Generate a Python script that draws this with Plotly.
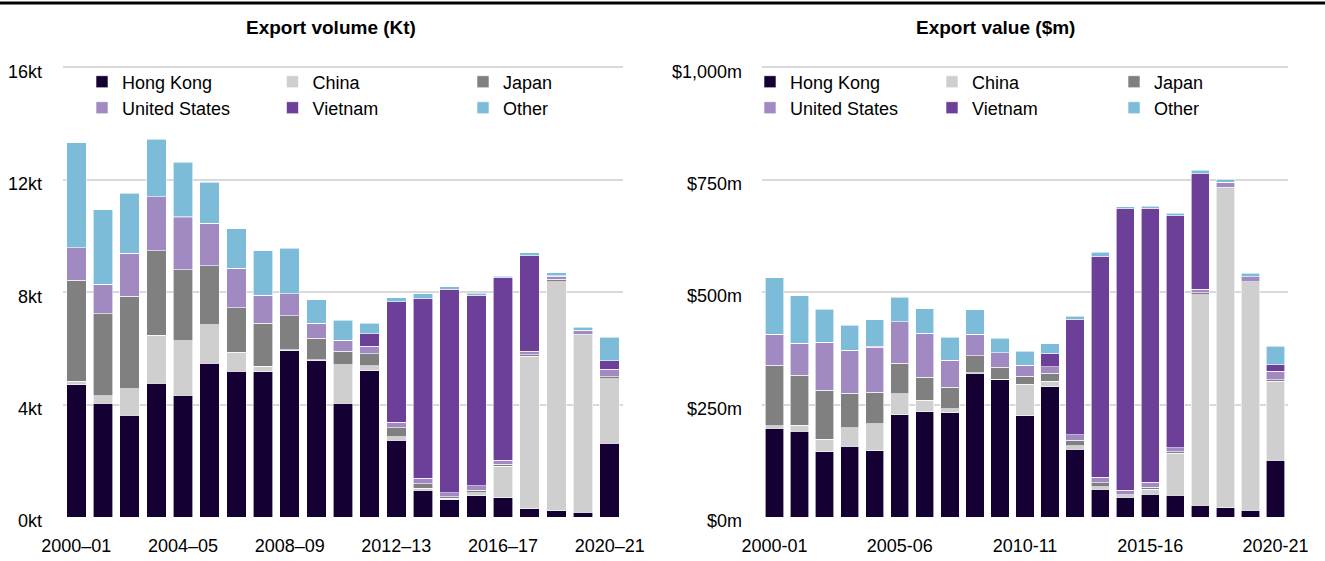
import plotly.graph_objects as go

# ---- data ----
years_vol = ["2000–01", "2001–02", "2002–03", "2003–04", "2004–05", "2005–06", "2006–07",
             "2007–08", "2008–09", "2009–10", "2010–11", "2011–12", "2012–13", "2013–14",
             "2014–15", "2015–16", "2016–17", "2017–18", "2018–19", "2019–20", "2020–21"]
years_val = [y.replace("–", "-") for y in years_vol]
vol_ticks = ["2000–01", "2004–05", "2008–09", "2012–13", "2016–17", "2020–21"]
val_ticks = ["2000-01", "2005-06", "2010-11", "2015-16", "2020-21"]

series_names = ["Hong Kong", "China", "Japan", "United States", "Vietnam", "Other"]
series_colors = ["#150034", "#cfcfcf", "#808080", "#a189c1", "#6c3f98", "#7cbcd8"]

# Export volume (kt)
hk_vol = [4.71, 4.04, 3.62, 4.76, 4.33, 5.48, 5.19, 5.17, 5.91, 5.56, 4.05, 5.20, 2.74, 0.96, 0.61, 0.75, 0.69, 0.30, 0.23, 0.17, 2.62]
china_vol = [0.13, 0.28, 0.94, 1.70, 1.95, 1.36, 0.68, 0.20, 0.05, 0.03, 1.37, 0.19, 0.12, 0.06, 0.06, 0.11, 1.12, 5.42, 8.15, 6.28, 2.30]
japan_vol = [3.58, 2.91, 3.29, 3.02, 2.52, 2.10, 1.58, 1.52, 1.21, 0.77, 0.48, 0.42, 0.32, 0.17, 0.05, 0.09, 0.07, 0.05, 0.09, 0.06, 0.07]
us_vol = [1.17, 1.06, 1.54, 1.91, 1.85, 1.52, 1.40, 1.00, 0.78, 0.53, 0.39, 0.27, 0.19, 0.19, 0.15, 0.17, 0.14, 0.13, 0.10, 0.12, 0.27]
vietnam_vol = [0, 0, 0, 0, 0.04, 0, 0, 0, 0, 0, 0, 0.45, 4.29, 6.39, 7.23, 6.77, 6.50, 3.40, 0.02, 0.02, 0.30]
other_vol = [3.73, 2.64, 2.14, 2.05, 1.93, 1.46, 1.40, 1.59, 1.61, 0.84, 0.72, 0.37, 0.14, 0.18, 0.09, 0.08, 0.05, 0.11, 0.10, 0.10, 0.84]

# Export value ($m)
hk_val = [197.5, 190.8, 145.0, 157.5, 147.9, 227.1, 233.7, 231.5, 319.5, 304.7, 224.8, 289.2, 150.9, 62.1, 44.4, 51.0, 48.8, 25.9, 20.7, 15.5, 125.7]
china_val = [5.9, 13.3, 28.1, 40.7, 59.9, 46.5, 25.9, 8.9, 1.5, 1.5, 70.3, 12.6, 7.4, 5.2, 2.9, 11.1, 93.2, 468.9, 709.3, 505.2, 176.1]
japan_val = [133.9, 111.0, 108.7, 76.9, 69.6, 68.8, 51.0, 48.0, 37.7, 26.6, 17.7, 18.4, 12.5, 8.9, 2.3, 4.5, 3.0, 3.7, 3.7, 2.2, 2.9]
us_val = [68.8, 71.7, 106.5, 95.4, 100.5, 91.7, 97.7, 59.9, 48.1, 32.6, 24.5, 14.1, 12.6, 11.8, 9.6, 10.3, 8.8, 8.1, 10.4, 11.1, 19.2]
vietnam_val = [0, 0, 0, 0, 1.5, 0, 0, 0, 0, 0, 0, 29.6, 255.9, 491.8, 626.4, 609.4, 516.3, 256.7, 0, 0, 14.8]
other_val = [126.5, 105.8, 74.0, 56.2, 59.2, 54.8, 54.7, 51.8, 54.0, 32.5, 31.0, 21.4, 6.7, 8.9, 4.5, 5.2, 5.9, 7.4, 7.3, 8.1, 40.7]

vol_series = [hk_vol, china_vol, japan_vol, us_vol, vietnam_vol, other_vol]
val_series = [hk_val, china_val, japan_val, us_val, vietnam_val, other_val]

vol_ticklabels = ["0kt", "4kt", "8kt", "12kt", "16kt"]
vol_tickvals = [0, 4, 8, 12, 16]
val_ticklabels = ["$0m", "$250m", "$500m", "$750m", "$1,000m"]
val_tickvals = [0, 250, 500, 750, 1000]

FONT = "Liberation Sans, Arial, sans-serif"

fig = go.Figure()
for i, (name, color) in enumerate(zip(series_names, series_colors)):
    row_legend_left = "legend" if i < 3 else "legend2"
    row_legend_right = "legend3" if i < 3 else "legend4"
    fig.add_trace(go.Bar(x=years_vol, y=vol_series[i], name=name, marker_color=color,
                         marker_line=dict(color="white", width=0.6),
                         xaxis="x", yaxis="y", legend=row_legend_left))
    fig.add_trace(go.Bar(x=years_val, y=val_series[i], name=name, marker_color=color,
                         marker_line=dict(color="white", width=0.6),
                         xaxis="x2", yaxis="y2", legend=row_legend_right))

W, H = 1325, 561
ml, mr, mt, mb = 63, 37, 66, 44
pw = W - ml - mr
ph = H - mt - mb


def px_x(p):
    return (p - ml) / pw


def px_y(p):
    return 1 - (p - mt) / ph


axis_common = dict(showline=False, zeroline=False, ticks="", automargin=False,
                   tickfont=dict(size=18, color="black", family=FONT))
yaxis_common = dict(showgrid=True, gridcolor="#d9d9d9", gridwidth=2, zeroline=False,
                    ticks="", automargin=False, tickfont=dict(size=18, color="black", family=FONT),
                    ticklabelshift=4)

legend_common = dict(orientation="h", xanchor="left", yanchor="middle",
                     bgcolor="rgba(0,0,0,0)", font=dict(size=18, color="black", family=FONT),
                     entrywidthmode="pixels", traceorder="normal",
                     itemclick=False, itemdoubleclick=False)

fig.update_layout(
    width=W, height=H,
    margin=dict(l=ml, r=mr, t=mt, b=mb, pad=0, autoexpand=False),
    paper_bgcolor="white", plot_bgcolor="white",
    barmode="stack", bargap=0.27,
    font=dict(family=FONT, size=18, color="black"),
    xaxis=dict(domain=[0, px_x(623)], type="category", categoryorder="array",
               categoryarray=years_vol, tickmode="array", tickvals=vol_ticks, ticktext=vol_ticks,
               tickangle=0, ticklabelstandoff=16, **axis_common),
    xaxis2=dict(domain=[px_x(762), 1], type="category", categoryorder="array",
                categoryarray=years_val, tickmode="array", tickvals=val_ticks, ticktext=val_ticks,
                tickangle=0, ticklabelstandoff=16, **axis_common),
    yaxis=dict(domain=[0, 1], range=[0, 16.05], tickvals=vol_tickvals, ticktext=vol_ticklabels,
               anchor="x", ticklabelstandoff=20, **yaxis_common),
    yaxis2=dict(domain=[0, 1], range=[0, 1003], tickvals=val_tickvals, ticktext=val_ticklabels,
                anchor="x2", ticklabelstandoff=19, **yaxis_common),
    legend=dict(x=px_x(82), y=px_y(82), entrywidth=145.5, **legend_common),
    legend2=dict(x=px_x(82), y=px_y(108), entrywidth=145.5, **legend_common),
    legend3=dict(x=px_x(750), y=px_y(82), entrywidth=137, **legend_common),
    legend4=dict(x=px_x(750), y=px_y(108), entrywidth=137, **legend_common),
    showlegend=True,
)

fig.add_annotation(text="<b>Export volume (Kt)</b>", xref="paper", yref="paper",
                   x=px_x(331), y=px_y(27), xanchor="center", yanchor="middle",
                   showarrow=False, font=dict(size=19, color="black", family=FONT))
fig.add_annotation(text="<b>Export value ($m)</b>", xref="paper", yref="paper",
                   x=px_x(995), y=px_y(27), xanchor="center", yanchor="middle",
                   showarrow=False, font=dict(size=19, color="black", family=FONT))

fig.add_shape(type="line", xref="paper", yref="paper",
              x0=px_x(0), x1=px_x(W), y0=px_y(3), y1=px_y(3),
              line=dict(color="black", width=3))

fig.write_html("out.html", config={"displayModeBar": False},
               post_script="document.body.style.margin='0';")
